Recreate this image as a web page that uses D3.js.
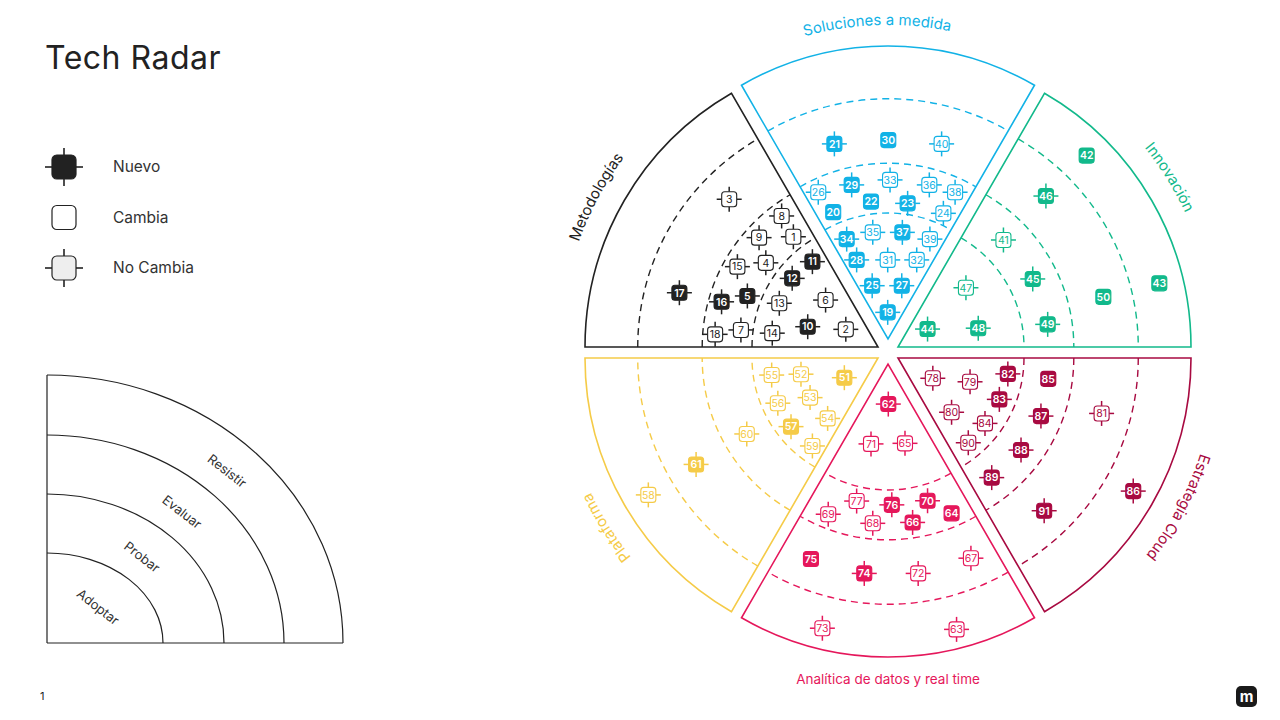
<!DOCTYPE html>
<html>
<head>
<meta charset="utf-8">
<script src="https://cdn.jsdelivr.net/npm/d3@7"></script>
<style>
  html, body { margin: 0; padding: 0; background: #fff; }
  svg { display: block; font-family: Inter, "Open Sans", sans-serif; }
</style>
</head>
<body>
<svg id="chart" width="1280" height="720"></svg>
<script>
// Sectores y anillos
const sectorNames = ['Metodologías', 'Soluciones a medida', 'Innovación', 'Estrategia Cloud', 'Analítica de datos y real time', 'Plataforma'];
const sectorColors = ['#222222', '#12b2e6', '#12b98b', '#a80a41', '#e5175b', '#f5cb48'];
const ringNames = ['Adoptar', 'Probar', 'Evaluar', 'Resistir'];
const ringOuter = [43, 60, 82, 100]; // % del radio
const legendTypes = [['nuevo', 'Nuevo'], ['cambia', 'Cambia'], ['igual', 'No Cambia']];

// Blips: [id, x, y, tipo] -- x/y en % del radio respecto al centro del radar
// n = nuevo (relleno + marcas), c = relleno sin marcas, o = contorno + marcas
const metodologias = [
  [1, -32.3, 39.5, 'o'], [2, -14.4, 7.9, 'o'], [3, -54.2, 52.3, 'o'], [4, -41.7, 30.6, 'o'],
  [5, -48.0, 19.3, 'n'], [6, -21.3, 17.9, 'o'], [7, -50.2, 7.7, 'o'], [8, -36.3, 46.6, 'o'],
  [9, -44.0, 39.2, 'o'], [10, -27.4, 8.8, 'n'], [11, -25.8, 31.0, 'n'], [12, -32.7, 25.3, 'n'],
  [13, -37.1, 16.8, 'o'], [14, -39.5, 6.6, 'o'], [15, -51.4, 29.3, 'o'], [16, -56.8, 17.3, 'n'],
  [17, -71.2, 20.4, 'n'], [18, -59.0, 6.2, 'o']
];
const soluciones = [
  [19, -0.1, 13.7, 'n'], [20, -18.7, 47.9, 'c'], [21, -18.3, 71.2, 'n'], [22, -5.8, 51.5, 'c'],
  [23, 6.7, 50.9, 'n'], [24, 18.9, 47.5, 'o'], [25, -5.4, 22.8, 'n'], [26, -23.8, 54.7, 'o'],
  [27, 4.7, 22.8, 'n'], [28, -10.7, 31.6, 'n'], [29, -12.4, 57.2, 'n'], [30, 0.1, 72.5, 'c'],
  [31, -0.1, 31.6, 'o'], [32, 9.8, 31.6, 'o'], [33, 0.7, 58.9, 'o'], [34, -14.1, 38.7, 'n'],
  [35, -5.2, 41.0, 'o'], [36, 14.1, 57.2, 'o'], [37, 4.9, 41.0, 'n'], [38, 22.9, 54.7, 'o'],
  [39, 14.3, 38.7, 'o'], [40, 18.3, 71.2, 'o']
];
const innovacion = [
  [41, 39.4, 38.4, 'o'], [42, 67.8, 67.2, 'c'], [43, 92.6, 23.6, 'c'], [44, 13.5, 8.0, 'n'],
  [45, 49.4, 25.1, 'n'], [46, 53.9, 53.4, 'n'], [47, 26.6, 22.1, 'o'], [48, 30.8, 8.3, 'n'],
  [49, 54.5, 9.6, 'n'], [50, 73.5, 19.0, 'c']
];
const cloud = [
  [78, 15.3, -8.8, 'o'], [79, 28.0, -10.0, 'o'], [80, 21.7, -20.4, 'o'], [81, 72.9, -20.8, 'o'],
  [82, 40.9, -7.3, 'n'], [83, 38.0, -16.0, 'n'], [84, 33.1, -24.2, 'o'], [85, 54.7, -9.0, 'c'],
  [86, 83.7, -47.3, 'n'], [87, 52.2, -21.7, 'n'], [88, 45.4, -33.3, 'n'], [89, 35.4, -42.7, 'n'],
  [90, 27.4, -30.8, 'o'], [91, 53.3, -54.0, 'n']
];
const analitica = [
  [62, 0.1, -17.6, 'n'], [63, 23.4, -94.5, 'o'], [64, 21.7, -54.9, 'c'], [65, 5.8, -31.0, 'o'],
  [66, 8.4, -58.0, 'n'], [67, 28.3, -70.2, 'o'], [68, -5.2, -58.3, 'o'], [69, -20.4, -55.2, 'o'],
  [70, 13.5, -50.6, 'n'], [71, -5.8, -31.2, 'o'], [72, 10.3, -75.4, 'o'], [73, -22.4, -94.1, 'o'],
  [74, -8.1, -75.4, 'n'], [75, -26.3, -70.5, 'c'], [76, 1.3, -52.0, 'n'], [77, -10.7, -50.7, 'o']
];
const plataforma = [
  [51, -14.9, -8.6, 'n'], [52, -29.7, -7.4, 'o'], [53, -26.6, -15.4, 'o'], [54, -20.6, -22.5, 'o'],
  [55, -39.7, -7.7, 'o'], [56, -37.6, -17.3, 'o'], [57, -33.1, -25.3, 'n'], [58, -81.8, -48.6, 'o'],
  [59, -25.8, -31.9, 'o'], [60, -48.2, -27.8, 'o'], [61, -65.5, -38.2, 'n']
];
const sectorBlips = [metodologias, soluciones, innovacion, cloud, analitica, plataforma];

// Layout
const cx = 888, cy = 352.5, R = 293;
const explode = [[-10, -5.5], [0, -13.5], [10, -5.5], [10, 5.5], [0, 11.5], [-10, 5.5]];
const boxSize = 15, tickLen = 5;

const svg = d3.select('#chart');
const x = d3.scaleLinear().domain([-100, 100]).range([cx - R, cx + R]);
const y = d3.scaleLinear().domain([-100, 100]).range([cy + R, cy - R]);
const rScale = d3.scaleLinear().domain([0, 100]).range([0, R]);
const rad = d => d * Math.PI / 180;

// Título
svg.append('text')
  .attr('x', 45).attr('y', 69)
  .attr('font-size', 32).attr('fill', '#222')
  .attr('letter-spacing', 0.5)
  .text('Tech Radar');

// Blip genérico
function drawBlip(g, size, tick, fill, stroke, withTicks, sw) {
  if (withTicks) {
    const h = size / 2;
    [[0, -h, 0, -h - tick], [0, h, 0, h + tick], [-h, 0, -h - tick, 0], [h, 0, h + tick, 0]].forEach(l => {
      g.append('line')
        .attr('x1', l[0]).attr('y1', l[1]).attr('x2', l[2]).attr('y2', l[3])
        .attr('stroke', stroke).attr('stroke-width', sw + 0.4);
    });
  }
  g.append('rect')
    .attr('x', -size / 2).attr('y', -size / 2)
    .attr('width', size).attr('height', size)
    .attr('rx', size / 5)
    .attr('fill', fill).attr('stroke', stroke).attr('stroke-width', sw);
}

// Leyenda de tipos
legendTypes.forEach(([type, label], i) => {
  const g = svg.append('g').attr('transform', `translate(64,${167 + i * 50.5})`);
  const fill = type === 'nuevo' ? '#222' : type === 'cambia' ? '#fff' : '#eeeeee';
  drawBlip(g, 24, 7, fill, '#222', type !== 'cambia', 1.2);
  svg.append('text')
    .attr('x', 113).attr('y', 167 + i * 50.5)
    .attr('dy', '0.35em')
    .attr('font-size', 15.5).attr('fill', '#333')
    .text(label);
});

// Cuadrante de anillos
const q = svg.append('g').attr('transform', 'translate(47,643)');
const ringRx = [116, 177, 237, 296];
const ringRy = [90, 149, 208, 268];
q.append('line').attr('x1', 0).attr('y1', 0).attr('x2', 0).attr('y2', -ringRy[3])
  .attr('stroke', '#222').attr('stroke-width', 1.2);
q.append('line').attr('x1', 0).attr('y1', 0).attr('x2', ringRx[3]).attr('y2', 0)
  .attr('stroke', '#222').attr('stroke-width', 1.2);
ringNames.forEach((name, i) => {
  q.append('path')
    .attr('d', `M0,${-ringRy[i]} A${ringRx[i]},${ringRy[i]} 0 0 1 ${ringRx[i]},0`)
    .attr('fill', 'none').attr('stroke', '#222').attr('stroke-width', 1.2);
});
const ringLabelPos = [[51, -36], [95, -86], [135, -131], [180, -172]];
ringNames.forEach((name, i) => {
  q.append('text')
    .attr('transform', `translate(${ringLabelPos[i][0]},${ringLabelPos[i][1]}) rotate(38)`)
    .attr('text-anchor', 'middle').attr('dy', '0.35em')
    .attr('font-size', 13).attr('fill', '#333')
    .text(name);
});

// Radar
const arcGen = d3.arc();
sectorNames.forEach((name, i) => {
  const a0 = rad(-90 + i * 60), a1 = rad(-30 + i * 60);
  const color = sectorColors[i];
  const g = svg.append('g')
    .attr('transform', `translate(${cx + explode[i][0]},${cy + explode[i][1]})`);

  g.append('path')
    .attr('d', arcGen({ innerRadius: 0, outerRadius: R, startAngle: a0, endAngle: a1 }))
    .attr('fill', '#fff').attr('stroke', color).attr('stroke-width', 1.6)
    .attr('stroke-linejoin', 'miter');

  // Anillos discontinuos
  ringOuter.slice(0, 3).forEach(r => {
    const p = d3.path();
    const rr = rScale(r);
    p.moveTo(rr * Math.sin(a0), -rr * Math.cos(a0));
    p.arc(0, 0, rr, a0 - Math.PI / 2, a1 - Math.PI / 2);
    g.append('path')
      .attr('d', p.toString())
      .attr('fill', 'none').attr('stroke', color)
      .attr('stroke-width', 1.4).attr('stroke-dasharray', '7,5');
  });

  // Etiqueta del sector
  if (i === 4) {
    svg.append('text')
      .attr('x', cx).attr('y', 684)
      .attr('text-anchor', 'middle')
      .attr('font-size', 13.5).attr('fill', color)
      .text(name);
  } else {
    const lr = R + (i === 1 ? 21 : 24);
    const p = d3.path();
    p.moveTo(lr * Math.sin(a0), -lr * Math.cos(a0));
    p.arc(0, 0, lr, a0 - Math.PI / 2, a1 - Math.PI / 2);
    const id = 'lbl-' + i;
    g.append('path').attr('id', id).attr('d', p.toString()).attr('fill', 'none');
    g.append('text')
      .attr('font-size', 15).attr('fill', color)
      .append('textPath')
      .attr('href', '#' + id)
      .attr('startOffset', '46.7%')
      .attr('text-anchor', 'middle')
      .text(name);
  }
});

// Blips
sectorBlips.forEach((blips, i) => {
  const color = sectorColors[i];
  blips.forEach(([id, bx, by, type]) => {
    const g = svg.append('g').attr('transform', `translate(${x(bx)},${y(by)})`);
    const filled = type !== 'o';
    drawBlip(g, boxSize, tickLen, filled ? color : '#fff', color, type !== 'c', 1.1);
    g.append('text')
      .attr('text-anchor', 'middle').attr('dy', '0.36em')
      .attr('font-size', 10.5)
      .attr('font-weight', filled ? 600 : 400)
      .attr('fill', filled ? '#fff' : color)
      .text(id);
  });
});

// Número de página y logo
svg.append('text')
  .attr('x', 40).attr('y', 700)
  .attr('font-size', 11).attr('fill', '#222')
  .text('1');
svg.append('rect')
  .attr('x', 1236).attr('y', 686).attr('width', 21).attr('height', 21)
  .attr('rx', 5).attr('fill', '#1a1a1a');
svg.append('text')
  .attr('x', 1246.5).attr('y', 696.5).attr('dy', '0.35em')
  .attr('text-anchor', 'middle')
  .attr('font-size', 15).attr('font-weight', 700).attr('fill', '#fff')
  .text('m');
</script>
</body>
</html>
